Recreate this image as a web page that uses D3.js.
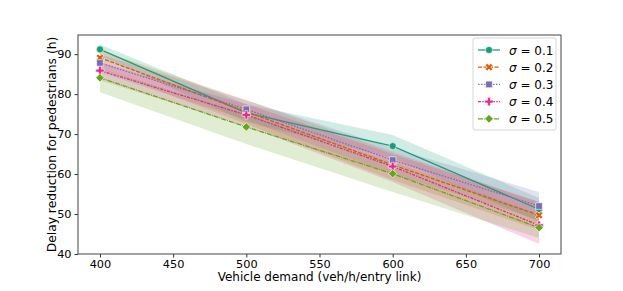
<!DOCTYPE html>
<html>
<head>
<meta charset="utf-8">
<script src="https://cdn.jsdelivr.net/npm/d3@7"></script>
<style>
body { margin: 0; background: #fff; }
text { font-family: "DejaVu Sans", sans-serif; }
</style>
</head>
<body>
<div id="chart"></div>
<script>
// demand levels on the x axis
var demand = [400, 500, 600, 700];
var sigmas = ["0.1", "0.2", "0.3", "0.4", "0.5"];

// mean delay reduction per sigma
var mean01 = [91.2, 75.3, 67.0, 51.2];
var mean02 = [89.1, 75.6, 62.3, 49.7];
var mean03 = [87.8, 76.2, 63.5, 52.0];
var mean04 = [85.9, 74.8, 61.9, 47.2];
var mean05 = [84.1, 71.8, 60.1, 46.6];

// confidence band, low / high
var lo01 = [89.6, 73.0, 64.0, 48.0], hi01 = [92.4, 77.5, 69.8, 54.0];
var lo02 = [86.5, 72.5, 58.5, 46.0], hi02 = [91.0, 78.5, 65.5, 53.0];
var lo03 = [85.5, 73.5, 60.0, 48.5], hi03 = [90.0, 78.5, 66.5, 55.5];
var lo04 = [83.5, 72.0, 58.0, 42.5], hi04 = [88.0, 77.5, 65.0, 53.0];
var lo05 = [80.5, 67.5, 55.5, 44.0], hi05 = [86.5, 75.0, 63.0, 50.0];

var xTicks = [400, 450, 500, 550, 600, 650, 700];
var yTicks = [40, 50, 60, 70, 80, 90];

var means = [mean01, mean02, mean03, mean04, mean05];
var lows = [lo01, lo02, lo03, lo04, lo05];
var highs = [hi01, hi02, hi03, hi04, hi05];

var colors = ["#1b9e77", "#d95f02", "#7570b3", "#e7298a", "#66a61e"];
var dashes = [null, "4,1.5", "1.5,1.5", "3,1.25,1.5,1.25", "5,1,1,1"];
// filled X = cross turned 45deg, diamond = square turned 45deg
var markers = [d3.symbolCircle, d3.symbolCross, d3.symbolSquare, d3.symbolCross, d3.symbolSquare];
var rotations = [0, 45, 0, 0, 45];

var W = 623, H = 291;
var m = {left: 78, right: 62, top: 35, bottom: 37};

var svg = d3.select("#chart").append("svg")
    .attr("width", W).attr("height", H);

var x = d3.scaleLinear().domain([385, 715]).range([m.left, W - m.right]);
var y = d3.scaleLinear().domain([40, 94.8]).range([H - m.bottom, m.top]);

var series = sigmas.map(function(s, i) {
    return demand.map(function(d, j) {
        return {x: d, y: means[i][j], lo: lows[i][j], hi: highs[i][j]};
    });
});

// bands first
var area = d3.area().x(function(d){ return x(d.x); })
    .y0(function(d){ return y(d.lo); }).y1(function(d){ return y(d.hi); });
svg.selectAll("path.band").data(series).enter().append("path")
    .attr("class", "band")
    .attr("d", area)
    .attr("fill", function(d, i){ return colors[i]; })
    .attr("fill-opacity", 0.2)
    .attr("stroke", "none");

var line = d3.line().x(function(d){ return x(d.x); }).y(function(d){ return y(d.y); });
svg.selectAll("path.line").data(series).enter().append("path")
    .attr("class", "line")
    .attr("d", line)
    .attr("fill", "none")
    .attr("stroke", function(d, i){ return colors[i]; })
    .attr("stroke-width", 1.3)
    .attr("stroke-dasharray", function(d, i){ return dashes[i]; });

function markerSym(i) {
    var sz = [40, 36, 44, 40, 36][i];
    return d3.symbol().type(markers[i]).size(sz)();
}

series.forEach(function(s, i) {
    svg.selectAll("path.mk" + i).data(s).enter().append("path")
        .attr("class", "mk" + i)
        .attr("d", markerSym(i))
        .attr("transform", function(d){
            return "translate(" + x(d.x) + "," + y(d.y) + ") rotate(" + rotations[i] + ")";
        })
        .attr("fill", colors[i])
        .attr("stroke", "#fff")
        .attr("stroke-width", 0.6);
});

// axes
var xAxis = svg.append("g")
    .attr("transform", "translate(0," + (H - m.bottom) + ")")
    .call(d3.axisBottom(x).tickValues(xTicks).tickSize(3.5).tickPadding(2.5));
var yAxis = svg.append("g")
    .attr("transform", "translate(" + m.left + ",0)")
    .call(d3.axisLeft(y).tickValues(yTicks).tickSize(3.5).tickPadding(3));
[xAxis, yAxis].forEach(function(a) {
    a.select(".domain").remove();
    a.selectAll("text").attr("font-size", 11.3).attr("fill", "#000")
        .attr("font-family", "DejaVu Sans, sans-serif");
    a.selectAll("line").attr("stroke", "#333");
});

svg.append("rect")
    .attr("x", m.left).attr("y", m.top)
    .attr("width", W - m.left - m.right).attr("height", H - m.top - m.bottom)
    .attr("fill", "none").attr("stroke", "#444").attr("stroke-width", 1);

svg.append("text")
    .attr("x", x(550)).attr("y", 281)
    .attr("text-anchor", "middle").attr("font-size", 12)
    .text("Vehicle demand (veh/h/entry link)");

svg.append("text")
    .attr("transform", "translate(56," + y(67.4) + ") rotate(-90)")
    .attr("text-anchor", "middle").attr("font-size", 12.3)
    .text("Delay reduction for pedestrians (h)");

// legend
var lg = svg.append("g").attr("transform", "translate(473,38)");
lg.append("rect").attr("width", 83).attr("height", 92).attr("rx", 2)
    .attr("fill", "#fff").attr("fill-opacity", 0.8)
    .attr("stroke", "#ccc").attr("stroke-width", 0.8);

sigmas.forEach(function(s, i) {
    var row = lg.append("g").attr("transform", "translate(0," + (12 + i * 17.2) + ")");
    row.append("line").attr("x1", 5).attr("x2", 27).attr("y1", 0).attr("y2", 0)
        .attr("stroke", colors[i]).attr("stroke-width", 1.3)
        .attr("stroke-dasharray", dashes[i]);
    row.append("path").attr("d", markerSym(i))
        .attr("transform", "translate(16,0) rotate(" + rotations[i] + ")")
        .attr("fill", colors[i]).attr("stroke", "#fff").attr("stroke-width", 0.6);
    var t = row.append("text").attr("x", 36).attr("y", 4.5).attr("font-size", 12);
    t.append("tspan").attr("font-style", "italic").text("σ");
    t.append("tspan").text(" = " + s);
});
</script>
</body>
</html>
